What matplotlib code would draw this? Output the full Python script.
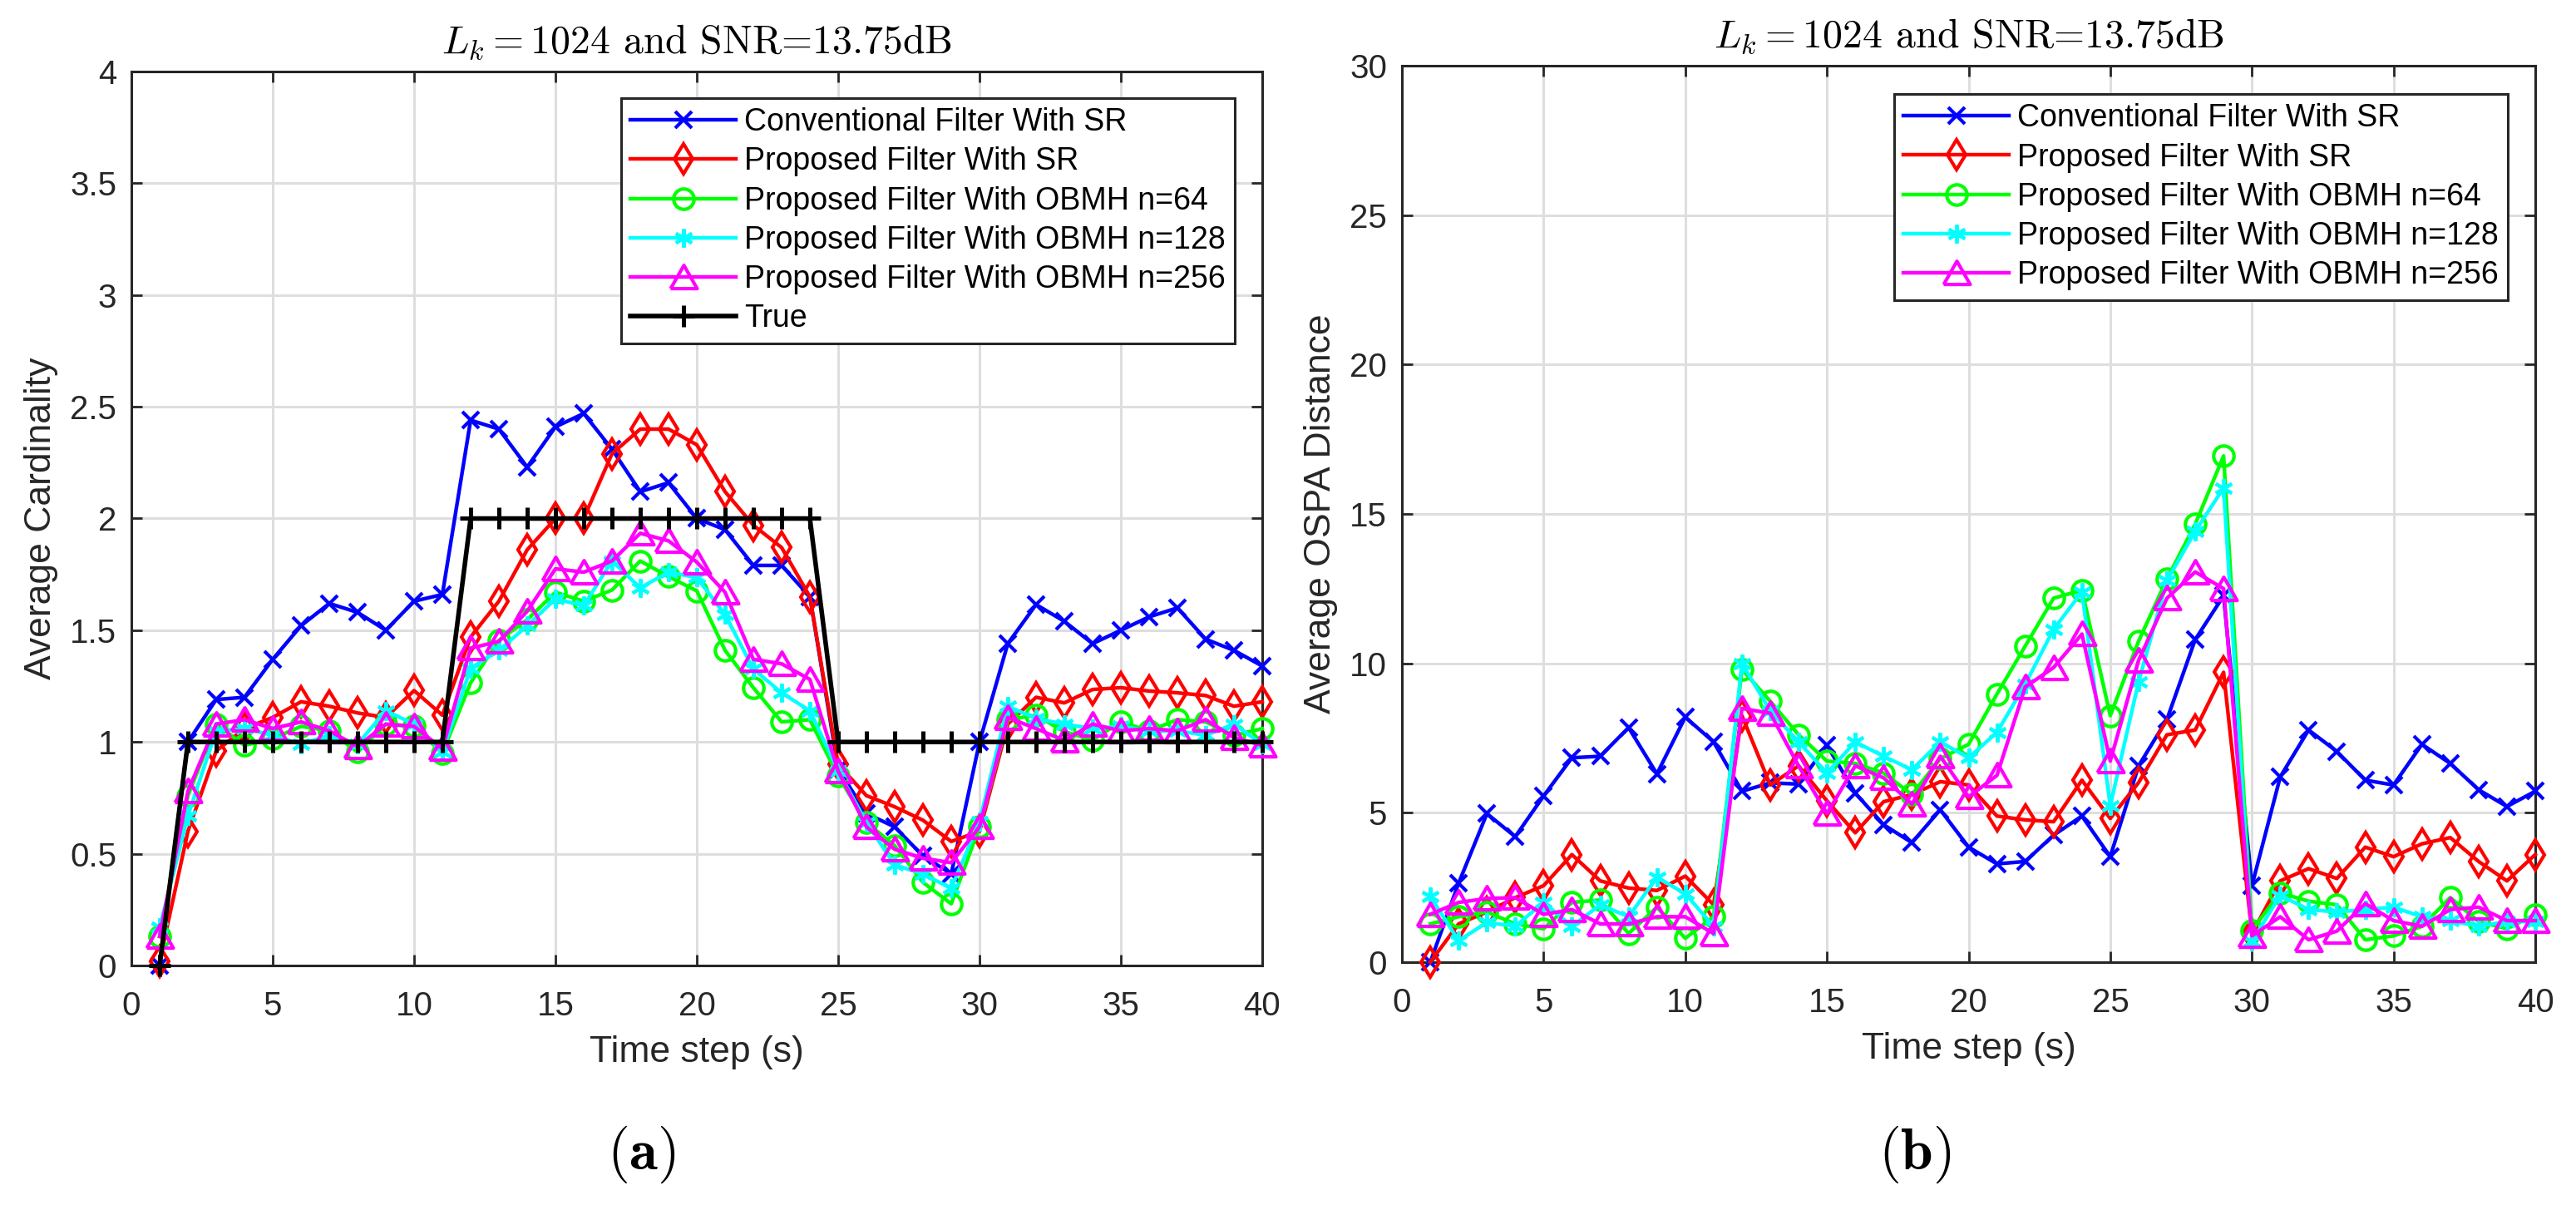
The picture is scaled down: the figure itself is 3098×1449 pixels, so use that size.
import numpy as np
import matplotlib
matplotlib.use("Agg")
import matplotlib.pyplot as plt
from matplotlib.ticker import FuncFormatter, MultipleLocator

plt.rcParams['font.family'] = ['Liberation Sans', 'DejaVu Sans']
plt.rcParams['mathtext.fontset'] = 'cm'

# ---------------- data ----------------
t = list(range(1, 41))

labels = ["Conventional Filter With SR",
          "Proposed Filter With SR",
          "Proposed Filter With OBMH n=64",
          "Proposed Filter With OBMH n=128",
          "Proposed Filter With OBMH n=256",
          "True"]

card_conv = [0.0, 1.0, 1.19, 1.20, 1.37, 1.52, 1.62, 1.58, 1.50, 1.63,
             1.66, 2.44, 2.40, 2.23, 2.41, 2.47, 2.31, 2.12, 2.16, 2.00,
             1.95, 1.79, 1.79, 1.65, 0.88, 0.68, 0.62, 0.49, 0.41, 1.00,
             1.44, 1.615, 1.54, 1.44, 1.50, 1.56, 1.60, 1.46, 1.41, 1.34]
card_sr = [0.02, 0.60, 0.96, 1.06, 1.11, 1.18, 1.16, 1.13, 1.11, 1.23,
           1.12, 1.47, 1.63, 1.86, 2.00, 2.00, 2.29, 2.40, 2.40, 2.33,
           2.12, 1.97, 1.87, 1.65, 0.90, 0.76, 0.71, 0.65, 0.555, 0.60,
           1.08, 1.20, 1.175, 1.235, 1.243, 1.228, 1.22, 1.208, 1.16, 1.18]
card_o64 = [0.13, 0.76, 1.08, 0.985, 1.015, 1.07, 1.05, 0.955, 1.08, 1.07,
            0.95, 1.265, 1.455, 1.547, 1.67, 1.63, 1.68, 1.81, 1.74, 1.676,
            1.41, 1.243, 1.09, 1.10, 0.848, 0.64, 0.536, 0.372, 0.276, 0.62,
            1.10, 1.12, 1.046, 1.01, 1.09, 1.05, 1.10, 1.09, 1.03, 1.06]
card_o128 = [0.17, 0.67, 1.05, 1.06, 1.03, 0.99, 1.03, 0.99, 1.14, 1.08,
             0.955, 1.33, 1.41, 1.52, 1.64, 1.61, 1.81, 1.69, 1.76, 1.736,
             1.57, 1.327, 1.22, 1.14, 0.87, 0.64, 0.45, 0.41, 0.345, 0.645,
             1.16, 1.105, 1.08, 1.06, 1.07, 1.05, 1.05, 1.03, 1.08, 0.99]
card_o256 = [0.13, 0.78, 1.08, 1.10, 1.06, 1.09, 1.05, 0.98, 1.08, 1.07,
             0.97, 1.42, 1.45, 1.585, 1.775, 1.76, 1.81, 1.934, 1.90, 1.805,
             1.67, 1.37, 1.35, 1.28, 0.87, 0.62, 0.52, 0.48, 0.46, 0.62,
             1.11, 1.06, 1.007, 1.08, 1.05, 1.06, 1.05, 1.10, 1.02, 0.985]
card_true = [0, 1, 1, 1, 1, 1, 1, 1, 1, 1,
             1, 2, 2, 2, 2, 2, 2, 2, 2, 2,
             2, 2, 2, 2, 1, 1, 1, 1, 1, 1,
             1, 1, 1, 1, 1, 1, 1, 1, 1, 1]

ospa_conv = [0.0, 2.64, 4.97, 4.2, 5.56, 6.84, 6.89, 7.85, 6.3, 8.2,
             7.37, 5.72, 6.0, 5.96, 7.26, 5.66, 4.6, 4.0, 5.1, 3.85,
             3.29, 3.37, 4.25, 4.89, 3.53, 6.57, 8.12, 10.8, 12.26, 2.56,
             6.2, 7.77, 7.05, 6.09, 5.93, 7.29, 6.65, 5.77, 5.21, 5.72]
ospa_sr = [0.0, 1.28, 1.68, 2.16, 2.56, 3.6, 2.72, 2.48, 2.4, 2.88,
           1.92, 8.25, 5.93, 6.57, 5.4, 4.33, 5.37, 5.61, 6.04, 5.93,
           4.89, 4.76, 4.7, 6.09, 4.81, 6.01, 7.61, 7.77, 9.7, 0.96,
           2.72, 3.13, 2.8, 3.85, 3.53, 3.96, 4.17, 3.37, 2.72, 3.6]
ospa_o64 = [1.28, 1.52, 1.68, 1.28, 1.12, 2.0, 2.08, 0.96, 1.84, 0.8,
            1.52, 9.8, 8.73, 7.61, 6.73, 6.65, 6.33, 5.61, 6.81, 7.29,
            8.97, 10.58, 12.18, 12.45, 8.25, 10.74, 12.82, 14.66, 16.94, 1.07,
            2.32, 2.04, 1.92, 0.75, 0.88, 1.2, 2.16, 1.36, 1.12, 1.6]
ospa_o128 = [2.2, 0.72, 1.33, 1.2, 2.0, 1.2, 1.92, 1.52, 2.84, 2.29,
             1.2, 10.0, 8.41, 7.37, 6.33, 7.37, 6.89, 6.44, 7.37, 6.84,
             7.69, 9.3, 11.14, 12.39, 5.24, 9.38, 12.77, 14.42, 15.87, 0.69,
             2.24, 1.76, 1.68, 1.76, 1.84, 1.52, 1.39, 1.2, 1.36, 1.36]
ospa_o256 = [1.6, 2.0, 2.13, 2.16, 1.6, 1.76, 1.28, 1.28, 1.52, 1.52,
             0.96, 8.49, 8.33, 6.57, 4.97, 6.57, 6.17, 5.29, 6.89, 5.53,
             6.25, 9.21, 9.86, 10.98, 6.73, 10.1, 12.18, 13.06, 12.5, 0.88,
             1.52, 0.75, 1.04, 1.96, 1.39, 1.2, 1.76, 1.84, 1.39, 1.39]

x_ticks = [0, 5, 10, 15, 20, 25, 30, 35, 40]
card_yticks = [0, 0.5, 1, 1.5, 2, 2.5, 3, 3.5, 4]
ospa_yticks = [0, 5, 10, 15, 20, 25, 30]

# ---------------- styles ----------------
DPI = 200
W, H = 3098, 1449
fig = plt.figure(figsize=(W / DPI, H / DPI), dpi=DPI)

def px2pt(p):
    return p * 72.0 / DPI

tri = [(-1.0, -0.85), (1.0, -0.85), (0.0, 0.9), (-1.0, -0.85)]
LW = 1.6
MEW = 1.5
styles = [
    dict(color=(0, 0, 1), marker='x', ms=7.5),
    dict(color=(1, 0, 0), marker='d', ms=9.2),
    dict(color=(0, 1, 0), marker='o', ms=8.8),
    dict(color=(0, 1, 1), marker=(6, 2, 0), ms=8.0),
    dict(color=(1, 0, 1), marker=tri, ms=11.5),
    dict(color=(0, 0, 0), marker='+', ms=9.3),
]

SPINE = '#262626'
GRID = '#dedede'

def style_axes(ax):
    ax.set_xlim(0, 40)
    ax.set_xticks(x_ticks)
    ax.grid(True, color=GRID, lw=1.1)
    ax.set_axisbelow(True)
    for s in ax.spines.values():
        s.set_color(SPINE)
        s.set_linewidth(1.1)
    ax.tick_params(direction='in', length=px2pt(13), width=1.0, colors=SPINE,
                   top=True, right=True, labelsize=14.5, labelcolor='#262626')
    ax.tick_params(axis='x', pad=px2pt(30))
    ax.tick_params(axis='y', pad=px2pt(18))
    ax.xaxis.set_major_formatter(FuncFormatter(lambda v, p: '%g' % v))
    ax.yaxis.set_major_formatter(FuncFormatter(lambda v, p: '%g' % v))
    ax.set_xlabel('Time step (s)', fontsize=16, color='#262626', labelpad=px2pt(16))
    ax.set_title(r'$L_k = 1024$ and SNR=13.75dB', fontfamily='cmr10',
                 fontsize=17.2, pad=px2pt(22), color='black')

def add_legend(ax, handles, anchor):
    leg = ax.legend(handles=handles, loc='upper right', bbox_to_anchor=anchor,
                    borderaxespad=0, fontsize=13.5, frameon=True, fancybox=False,
                    framealpha=1, edgecolor=SPINE, labelspacing=0.3,
                    borderpad=0.3, handlelength=3.38, handletextpad=0.27)
    leg.get_frame().set_linewidth(1.1)
    for txt in leg.get_texts():
        txt.set_color('black')
    return leg

# ---------------- left: cardinality ----------------
axL = fig.add_axes([158 / W, (H - 1161) / H, 1360 / W, 1075 / H])
card_series = [card_conv, card_sr, card_o64, card_o128, card_o256, card_true]
hL = []
for i, (ys, lab) in enumerate(zip(card_series, labels)):
    st = styles[i]
    lw = 2.0 if i == 5 else LW
    h, = axL.plot(t, ys, color=st['color'], marker=st['marker'], ms=st['ms'],
                  mfc='none', mec=st['color'], mew=MEW if i != 5 else 1.8,
                  lw=lw, label=lab, clip_on=False, zorder=3 + i)
    hL.append(h)
axL.set_ylim(0, 4)
axL.set_yticks(card_yticks)
style_axes(axL)
axL.set_ylabel('Average Cardinality', fontsize=16, color='#262626', labelpad=px2pt(14))
add_legend(axL, hL, ((1485 - 158) / 1360, (1161 - 118) / 1075))

# ---------------- right: OSPA ----------------
axR = fig.add_axes([1686 / W, (H - 1157) / H, 1363 / W, 1078 / H])
ospa_series = [ospa_conv, ospa_sr, ospa_o64, ospa_o128, ospa_o256]
hR = []
for i, (ys, lab) in enumerate(zip(ospa_series, labels[:5])):
    st = styles[i]
    h, = axR.plot(t, ys, color=st['color'], marker=st['marker'], ms=st['ms'],
                  mfc='none', mec=st['color'], mew=MEW, lw=LW, label=lab,
                  clip_on=False, zorder=3 + i)
    hR.append(h)
axR.set_ylim(0, 30)
axR.set_yticks(ospa_yticks)
style_axes(axR)
axR.set_ylabel('Average OSPA Distance', fontsize=16, color='#262626', labelpad=px2pt(14))
add_legend(axR, hR, ((3016 - 1686) / 1363, (1157 - 113) / 1078))

# ---------------- panel labels ----------------
fig.text(771 / W, 1 - 1388 / H, r'$(\mathbf{a})$', ha='center', va='center', fontsize=25)
fig.text(2303 / W, 1 - 1388 / H, r'$(\mathbf{b})$', ha='center', va='center', fontsize=25)

fig.savefig('out.png', dpi=DPI)
